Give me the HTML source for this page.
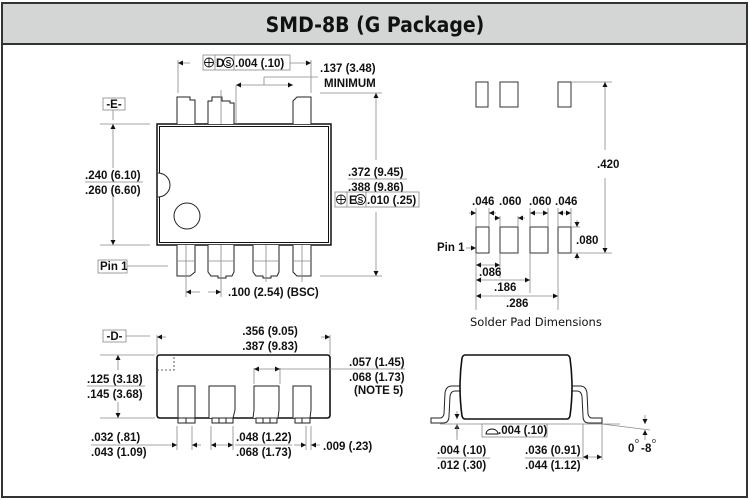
<!DOCTYPE html>
<html><head><meta charset="utf-8"><style>
html,body{margin:0;padding:0;background:#fff}
svg{display:block}
text{font-family:"Liberation Sans",sans-serif;font-weight:bold;font-size:11.5px;fill:#111}
.t{stroke:#888;stroke-width:0.8;fill:none}
.k{stroke:#111;stroke-width:1.3;fill:none}
.p{stroke:#222;stroke-width:1;fill:#fff}
.b{stroke:#888;stroke-width:0.8;fill:#fff}
</style></head><body>
<svg width="750" height="500" viewBox="0 0 750 500" xmlns="http://www.w3.org/2000/svg">
<defs>
<marker id="a" viewBox="0 0 10 10" refX="10" refY="5" markerWidth="7" markerHeight="5" orient="auto-start-reverse" markerUnits="userSpaceOnUse"><path d="M0,0L10,5L0,10z" fill="#111"/></marker>
</defs>
<rect x="2" y="3" width="745" height="494" fill="#fff" stroke="#333" stroke-width="2"/>
<rect x="3" y="4" width="743" height="40" fill="#d4d6d6"/>
<line x1="2" y1="44" x2="747" y2="44" stroke="#333" stroke-width="2"/>
<text x="375" y="32" text-anchor="middle" style="font-family:'DejaVu Sans Condensed','DejaVu Sans',sans-serif;font-size:21px">SMD-8B (G Package)</text>

<!-- TOP VIEW -->
<rect x="157" y="124" width="174" height="121" fill="#fff" stroke="#111" stroke-width="1.5"/>
<rect x="159.5" y="126.5" width="169" height="116" fill="none" stroke="#111" stroke-width="1"/>
<path d="M158,173 A12,12 0 0 1 158,197" class="p"/>
<circle cx="187" cy="216" r="13" class="p"/>
<path d="M177,124V97H190V100H195V124" class="p"/>
<path d="M208,124V101H212V97H222V101H230V103H234V124" class="p"/>
<path d="M293,124V101L297,97H311V124" class="p"/>
<line x1="221" y1="90" x2="221" y2="124" class="t"/>
<path d="M177,245V276H190L195,272V245" class="p"/>
<path d="M208,245V272L211,276H218V278H226V276H232L234,272V245" class="p"/>
<path d="M253,245V272L256,276H263V278H271V276H277L279,272V245" class="p"/>
<path d="M293,245V272L297,276H311V245" class="p"/>
<line x1="177" y1="261" x2="195" y2="261" class="t"/><line x1="208" y1="261" x2="234" y2="261" class="t"/><line x1="253" y1="261" x2="279" y2="261" class="t"/><line x1="293" y1="261" x2="311" y2="261" class="t"/>
<line x1="186" y1="245" x2="186" y2="297" class="t"/><line x1="221" y1="245" x2="221" y2="297" class="t"/><line x1="266" y1="245" x2="266" y2="282" class="t"/><line x1="302" y1="245" x2="302" y2="282" class="t"/>
<line x1="178" y1="60" x2="178" y2="93" class="t"/><line x1="311" y1="60" x2="311" y2="93" class="t"/>
<line x1="190" y1="63" x2="178" y2="63" class="t" marker-end="url(#a)"/>
<line x1="290" y1="63" x2="311" y2="63" class="t" marker-end="url(#a)"/>
<rect x="203" y="55" width="87" height="15" class="b"/>
<line x1="215" y1="55" x2="215" y2="70" class="t"/><line x1="234" y1="55" x2="234" y2="70" class="t"/>
<circle cx="209" cy="62.5" r="4.5" fill="none" stroke="#111" stroke-width="0.9"/><path d="M204.5,62.5h9M209,58v9" stroke="#111" stroke-width="0.9"/>
<text x="216" y="67">D</text>
<circle cx="228.5" cy="62.5" r="5" fill="none" stroke="#111" stroke-width="0.9"/><text x="228.5" y="66" text-anchor="middle" style="font-size:8.5px">S</text>
<text x="235" y="67">.004 (.10)</text>
<text x="320" y="72">.137 (3.48)</text>
<text x="324" y="87">MINIMUM</text>
<line x1="264" y1="77" x2="318" y2="77" class="t"/><line x1="264" y1="77" x2="264" y2="85" class="t"/>
<line x1="236" y1="85" x2="293" y2="85" class="t" marker-start="url(#a)" marker-end="url(#a)"/>
<line x1="236" y1="85" x2="236" y2="124" class="t"/>
<rect x="103" y="98" width="22" height="12" class="b"/><text x="114" y="108" text-anchor="middle">-E-</text>
<line x1="113" y1="110" x2="113" y2="120" class="t"/>
<line x1="100" y1="124" x2="150" y2="124" class="t"/><line x1="100" y1="245" x2="150" y2="245" class="t"/>
<line x1="113" y1="168" x2="113" y2="124" class="t" marker-end="url(#a)"/>
<line x1="113" y1="196" x2="113" y2="245" class="t" marker-end="url(#a)"/>
<text x="85" y="179">.240 (6.10)</text>
<line x1="85" y1="182" x2="143" y2="182" class="t"/>
<text x="85" y="194">.260 (6.60)</text>
<line x1="320" y1="93" x2="382" y2="93" class="t"/><line x1="320" y1="276" x2="382" y2="276" class="t"/>
<line x1="376" y1="160" x2="376" y2="93" class="t" marker-end="url(#a)"/>
<line x1="376" y1="212" x2="376" y2="276" class="t" marker-end="url(#a)"/>
<text x="348" y="176">.372 (9.45)</text>
<line x1="348" y1="179" x2="407" y2="179" class="t"/>
<text x="348" y="191">.388 (9.86)</text>
<rect x="335" y="192" width="84" height="15" class="b"/>
<line x1="347" y1="192" x2="347" y2="207" class="t"/><line x1="366" y1="192" x2="366" y2="207" class="t"/>
<circle cx="341" cy="199.5" r="4.5" fill="none" stroke="#111" stroke-width="0.9"/><path d="M336.5,199.5h9M341,195v9" stroke="#111" stroke-width="0.9"/>
<text x="349" y="204">E</text>
<circle cx="360.5" cy="199.5" r="5" fill="none" stroke="#111" stroke-width="0.9"/><text x="360.5" y="203" text-anchor="middle" style="font-size:8.5px">S</text>
<text x="367" y="204">.010 (.25)</text>
<rect x="98" y="260" width="29" height="13" class="b"/><text x="100" y="270">Pin 1</text>
<line x1="127" y1="266" x2="168" y2="266" class="t"/>
<line x1="200" y1="292" x2="186" y2="292" class="t" marker-end="url(#a)"/>
<line x1="208" y1="292" x2="221" y2="292" class="t" marker-end="url(#a)"/>
<text x="228" y="296">.100 (2.54) (BSC)</text>

<!-- SIDE VIEW -->
<rect x="103" y="330" width="23" height="12" class="b"/><text x="114.5" y="340" text-anchor="middle">-D-</text>
<line x1="126" y1="336" x2="150" y2="336" class="t"/>
<line x1="157" y1="335" x2="157" y2="355" class="t"/><line x1="330" y1="335" x2="330" y2="355" class="t"/>
<line x1="166" y1="337" x2="157" y2="337" class="t" marker-end="url(#a)"/>
<line x1="321" y1="337" x2="330" y2="337" class="t" marker-end="url(#a)"/>
<text x="270" y="335" text-anchor="middle">.356 (9.05)</text>
<text x="270" y="350" text-anchor="middle">.387 (9.83)</text>
<path d="M160,355H327Q330,355 330,358V415Q330,418 327,418H160Q157,418 157,415V358Q157,355 160,355Z" fill="#fff" stroke="#111" stroke-width="1.6"/>
<path d="M157,370H174V355" fill="none" stroke="#333" stroke-width="0.8" stroke-dasharray="2,2"/>
<path d="M178,418V386H195V418" class="p"/>
<path d="M209,418V386H235V410L233,418" class="p"/>
<path d="M253,418L254,410V386H279V410L278,418" class="p"/>
<path d="M293,418V386H311V410L310,418" class="p"/>
<rect x="178" y="418" width="17" height="5" class="p"/><line x1="186" y1="418" x2="186" y2="423" stroke="#222"/>
<rect x="212" y="418" width="21" height="5" class="p"/><line x1="219" y1="418" x2="219" y2="423" stroke="#222"/><line x1="226" y1="418" x2="226" y2="423" stroke="#222"/>
<rect x="256" y="418" width="21" height="5" class="p"/><line x1="263" y1="418" x2="263" y2="423" stroke="#222"/><line x1="270" y1="418" x2="270" y2="423" stroke="#222"/>
<rect x="295" y="418" width="15" height="5" class="p"/><line x1="302" y1="418" x2="302" y2="423" stroke="#222"/>
<line x1="100" y1="355" x2="155" y2="355" class="t"/><line x1="100" y1="418" x2="155" y2="418" class="t"/>
<line x1="118" y1="370" x2="118" y2="355" class="t" marker-end="url(#a)"/>
<line x1="118" y1="402" x2="118" y2="418" class="t" marker-end="url(#a)"/>
<text x="87" y="383">.125 (3.18)</text>
<line x1="87" y1="386" x2="145" y2="386" class="t"/>
<text x="87" y="398">.145 (3.68)</text>
<line x1="254" y1="368" x2="254" y2="384" class="t"/><line x1="280" y1="368" x2="280" y2="384" class="t"/>
<line x1="254" y1="369" x2="280" y2="369" class="t" marker-start="url(#a)" marker-end="url(#a)"/>
<line x1="280" y1="369" x2="405" y2="369" class="t"/>
<text x="349" y="366">.057 (1.45)</text>
<text x="349" y="381">.068 (1.73)</text>
<text x="354" y="394">(NOTE 5)</text>
<line x1="177" y1="426" x2="177" y2="450" class="t"/><line x1="192" y1="426" x2="192" y2="450" class="t"/>
<line x1="211" y1="426" x2="211" y2="450" class="t"/><line x1="233" y1="426" x2="233" y2="450" class="t"/>
<line x1="306" y1="426" x2="306" y2="450" class="t"/><line x1="311" y1="426" x2="311" y2="450" class="t"/>
<line x1="145" y1="445" x2="177" y2="445" class="t" marker-end="url(#a)"/>
<line x1="201" y1="445" x2="192" y2="445" class="t" marker-end="url(#a)"/>
<line x1="211" y1="445" x2="233" y2="445" class="t" marker-start="url(#a)" marker-end="url(#a)"/>
<line x1="294" y1="445" x2="306" y2="445" class="t" marker-end="url(#a)"/>
<line x1="320" y1="445" x2="311" y2="445" class="t" marker-end="url(#a)"/>
<text x="91" y="441">.032 (.81)</text>
<line x1="91" y1="445" x2="145" y2="445" class="t"/>
<text x="91" y="456">.043 (1.09)</text>
<text x="236" y="441">.048 (1.22)</text>
<line x1="235" y1="445" x2="292" y2="445" class="t"/>
<text x="236" y="456">.068 (1.73)</text>
<text x="323" y="450">.009 (.23)</text>

<!-- SOLDER PADS -->
<g fill="#fff" stroke="#333" stroke-width="1">
<rect x="476" y="82" width="12" height="25"/><rect x="500" y="82" width="18" height="25"/><rect x="558" y="82" width="13" height="25"/>
<rect x="476" y="227" width="13" height="26"/><rect x="500" y="227" width="18" height="26"/><rect x="530" y="227" width="18" height="26"/><rect x="558" y="227" width="13" height="26"/>
</g>
<line x1="571" y1="82" x2="612" y2="82" class="t"/><line x1="571" y1="253" x2="612" y2="253" class="t"/>
<line x1="605" y1="150" x2="605" y2="82" class="t" marker-end="url(#a)"/>
<line x1="605" y1="178" x2="605" y2="253" class="t" marker-end="url(#a)"/>
<text x="597" y="168">.420</text>
<text x="472" y="205">.046</text><text x="499" y="205">.060</text><text x="529" y="205">.060</text><text x="555" y="205">.046</text>
<g class="t">
<line x1="476" y1="208" x2="476" y2="227"/><line x1="489" y1="208" x2="489" y2="227"/>
<line x1="500" y1="216" x2="500" y2="227"/><line x1="518" y1="216" x2="518" y2="227"/>
<line x1="530" y1="208" x2="530" y2="227"/><line x1="548" y1="208" x2="548" y2="227"/>
<line x1="558" y1="208" x2="558" y2="227"/><line x1="571" y1="208" x2="571" y2="227"/>
<line x1="476" y1="253" x2="476" y2="310"/><line x1="500" y1="253" x2="500" y2="278"/><line x1="530" y1="253" x2="530" y2="293"/><line x1="558" y1="253" x2="558" y2="310"/>
<line x1="571" y1="227" x2="580" y2="227"/>
</g>
<line x1="469" y1="213" x2="476" y2="213" class="t" marker-end="url(#a)"/>
<line x1="496" y1="213" x2="489" y2="213" class="t" marker-end="url(#a)"/>
<line x1="494" y1="218" x2="500" y2="218" class="t" marker-end="url(#a)"/>
<line x1="525" y1="218" x2="518" y2="218" class="t" marker-end="url(#a)"/>
<line x1="530" y1="213" x2="548" y2="213" class="t" marker-start="url(#a)" marker-end="url(#a)"/>
<line x1="558" y1="213" x2="571" y2="213" class="t" marker-start="url(#a)" marker-end="url(#a)"/>
<line x1="577" y1="220" x2="577" y2="227" class="t" marker-end="url(#a)"/>
<line x1="577" y1="260" x2="577" y2="253" class="t" marker-end="url(#a)"/>
<text x="576" y="244">.080</text>
<text x="437" y="251">Pin 1</text>
<line x1="466" y1="248" x2="476" y2="248" class="t" marker-end="url(#a)"/>
<line x1="476" y1="265" x2="500" y2="265" class="t" marker-start="url(#a)" marker-end="url(#a)"/>
<line x1="476" y1="280" x2="530" y2="280" class="t" marker-start="url(#a)" marker-end="url(#a)"/>
<line x1="476" y1="296" x2="558" y2="296" class="t" marker-start="url(#a)" marker-end="url(#a)"/>
<text x="479" y="276">.086</text>
<text x="494" y="291">.186</text>
<text x="506" y="307">.286</text>
<text x="470" y="326" style="font-weight:normal;font-family:'DejaVu Sans',sans-serif;font-size:11.5px">Solder Pad Dimensions</text>

<!-- END VIEW -->
<path d="M461,386H452Q446,386 445,393L444,414Q443,418 440,418H431V423H443Q449,423 449,416L450,396Q451,391 455,391H462" fill="#fff" stroke="#222" stroke-width="1"/>
<path d="M571,386H580Q586,386 587,393L588,414Q589,418 592,418H602V423H589Q583,423 583,416L582,396Q581,391 577,391H570" fill="#fff" stroke="#222" stroke-width="1"/>
<path d="M465,355H567Q569,355 570,358Q574,387 570,416Q569,419 567,419H465Q463,419 462,416Q458,387 462,358Q463,355 465,355Z" fill="#fff" stroke="#111" stroke-width="1.6"/>
<line x1="440" y1="424" x2="620" y2="424" class="t"/>
<line x1="602" y1="424" x2="650" y2="430" class="t"/>
<line x1="457" y1="411" x2="457" y2="419" class="t" marker-end="url(#a)"/>
<line x1="457" y1="436" x2="457" y2="424" class="t" marker-end="url(#a)"/>
<line x1="457" y1="424" x2="457" y2="440" class="t"/>
<rect x="482" y="424" width="65" height="13" class="b"/>
<path d="M486,434A6,5 0 0 1 498,434Z" fill="none" stroke="#111" stroke-width="0.9"/>
<text x="498" y="434">.004 (.10)</text>
<text x="437" y="454">.004 (.10)</text>
<line x1="437" y1="458" x2="490" y2="458" class="t"/>
<text x="437" y="469">.012 (.30)</text>
<line x1="583" y1="424" x2="583" y2="460" class="t"/><line x1="602" y1="424" x2="602" y2="460" class="t"/>
<line x1="583" y1="457" x2="602" y2="457" class="t" marker-start="url(#a)" marker-end="url(#a)"/>
<text x="525" y="454">.036 (0.91)</text>
<line x1="525" y1="458" x2="582" y2="458" class="t"/>
<text x="525" y="469">.044 (1.12)</text>
<line x1="645" y1="415" x2="645" y2="424" class="t" marker-end="url(#a)"/>
<line x1="645" y1="440" x2="645" y2="430" class="t" marker-end="url(#a)"/>
<text x="628" y="452">0</text><text x="635" y="443" style="font-size:7px;font-weight:normal">o</text>
<text x="641" y="452">-</text><text x="645" y="452">8</text><text x="652" y="443" style="font-size:7px;font-weight:normal">o</text>
</svg>
</body></html>
